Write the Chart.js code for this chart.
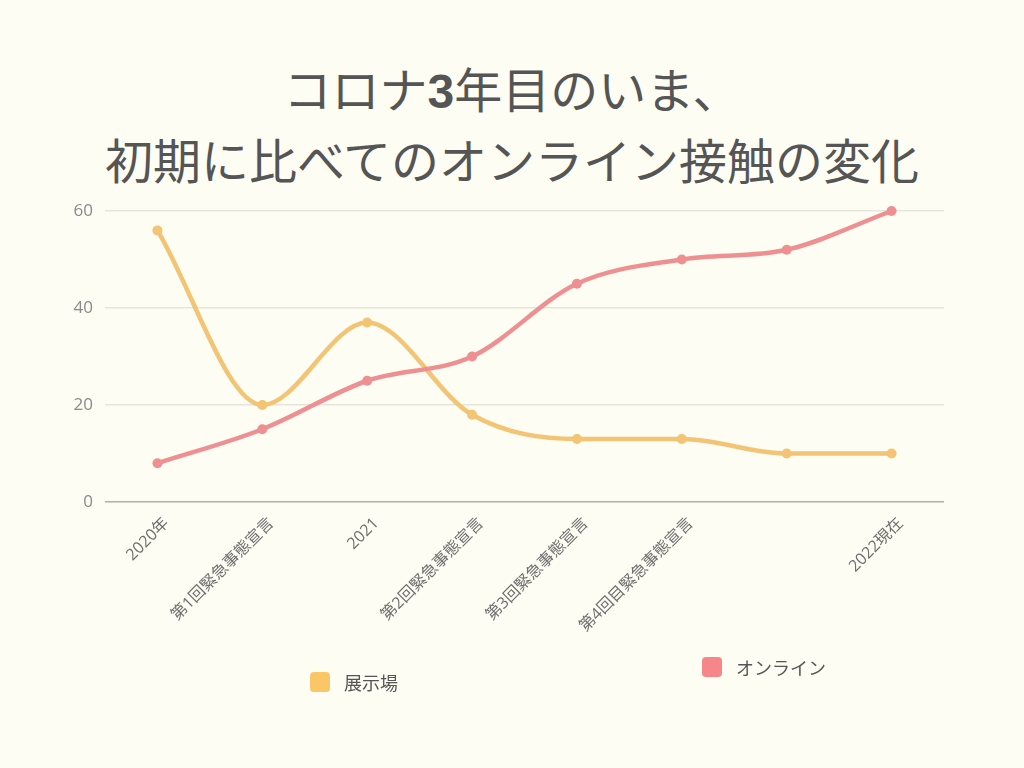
<!DOCTYPE html>
<html lang="ja">
<head>
<meta charset="utf-8">
<script src="https://cdn.jsdelivr.net/npm/chart.js@4"></script>
<style>
  html, body { margin: 0; padding: 0; }
  body {
    width: 1024px; height: 768px; position: relative; overflow: hidden;
    background: #fdfdf3;
    font-family: "Noto Sans CJK JP", "Noto Sans", sans-serif;
  }
  #title {
    position: absolute; left: 0; top: 54px; width: 1024px;
    text-align: center; font-size: 48px; line-height: 66px; color: #555;
  }
  #title b { font-family: "Liberation Sans", Arial, sans-serif; font-weight: bold; }
  #chart { position: absolute; left: 0; top: 0; }
  .legend {
    position: absolute; display: flex; align-items: center;
    font-size: 18px; color: #555;
  }
  .legend span.box { width: 20px; height: 20px; border-radius: 4px; margin-right: 14px; }
</style>
</head>
<body>
<div id="title">コロナ<b>3</b>年目のいま、<br>初期に比べてのオンライン接触の変化</div>
<canvas id="chart" width="1024" height="768"></canvas>
<div class="legend" style="left:310px; top:669px;"><span class="box" style="background:#fbc666"></span>展示場</div>
<div class="legend" style="left:702px; top:654px;"><span class="box" style="background:#f7868b"></span>オンライン</div>

<script>
const labels = ['2020年', '第1回緊急事態宣言', '2021', '第2回緊急事態宣言', '第3回緊急事態宣言', '第4回目緊急事態宣言', '', '2022現在'];
const tenjijo = [56, 20, 37, 18, 13, 13, 10, 10];
const online = [8, 15, 25, 30, 45, 50, 52, 60];
const yTicks = [0, 20, 40, 60];

const ctx = document.getElementById('chart').getContext('2d');

new Chart(ctx, {
  type: 'line',
  data: {
    labels: labels,
    datasets: [
      {
        label: '展示場',
        data: tenjijo,
        borderColor: '#f2c473',
        backgroundColor: '#f2c473',
        borderWidth: 4.5,
        pointRadius: 5,
        pointBorderWidth: 0,
        cubicInterpolationMode: 'monotone',
        fill: false,
        clip: false,
        order: 1,
      },
      {
        label: 'オンライン',
        data: online,
        borderColor: '#ee9092',
        backgroundColor: '#ee9092',
        borderWidth: 4.5,
        pointRadius: 5,
        pointBorderWidth: 0,
        cubicInterpolationMode: 'monotone',
        fill: false,
        clip: false,
        order: 0,
      },
    ],
  },
  options: {
    responsive: false,
    animation: false,
    layout: { padding: { left: 45, right: 80, top: 211, bottom: 116 } },
    plugins: {
      legend: { display: false },
      tooltip: { enabled: false },
    },
    scales: {
      x: {
        offset: true,
        grid: { display: false },
        border: { display: false },
        afterFit: (scale) => { scale.height = 150; },
        ticks: {
          autoSkip: false,
          minRotation: 45,
          maxRotation: 45,
          padding: 4,
          labelOffset: 9,
          color: '#6e6e6e',
          font: { family: '"Open Sans", "Noto Sans CJK JP"', size: 16 },
        },
      },
      y: {
        min: 0,
        max: 60,
        afterFit: (scale) => { scale.width = 60; },
        afterBuildTicks: (scale) => { scale.ticks = yTicks.map(v => ({ value: v })); },
        border: { display: false },
        grid: {
          drawTicks: false,
          color: (c) => (c.tick && c.tick.value === 0 ? '#b0b0ab' : '#e5e5de'),
          lineWidth: 1.5,
        },
        ticks: {
          padding: 12,
          color: '#8a8a8a',
          font: { family: '"Open Sans", "Noto Sans CJK JP"', size: 17 },
        },
      },
    },
  },
});
</script>
</body>
</html>
